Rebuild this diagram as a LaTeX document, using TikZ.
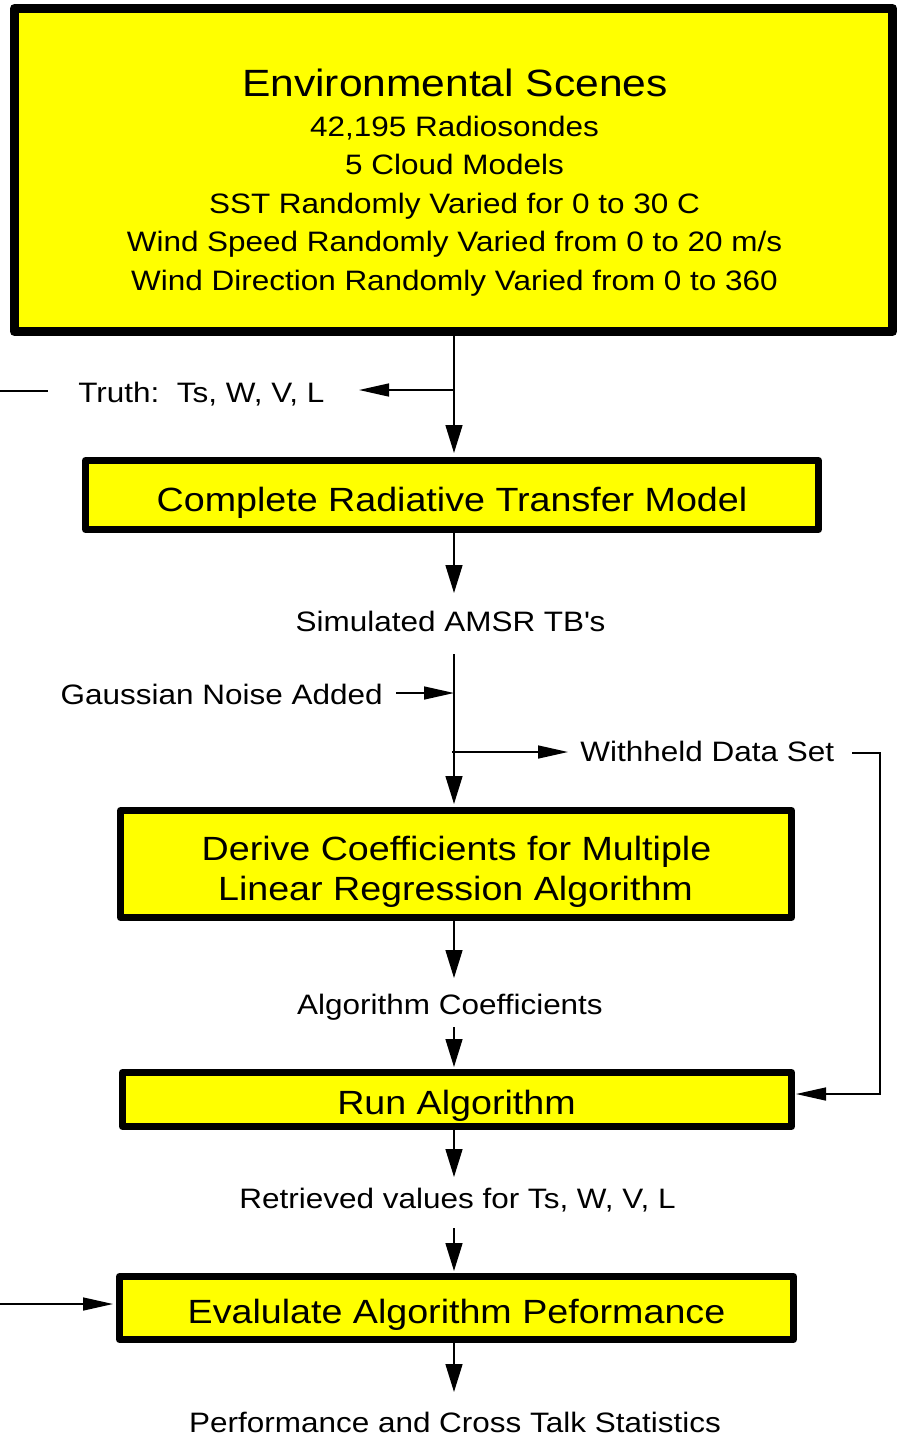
\documentclass[tikz,border=0pt]{standalone}
\usepackage{fontspec}
\setmainfont{Liberation Sans}[FakeStretch=1.12]
\usetikzlibrary{arrows.meta}
\definecolor{boxyellow}{RGB}{255,255,0}
\begin{document}
\begin{tikzpicture}[x=0.5pt,y=-0.5pt,
  conn/.style={line width=0.75pt},
  vtip/.style={conn,-{Triangle[length=14pt,width=8.5pt]}},
  htip/.style={conn,-{Triangle[length=15pt,width=6.5pt]}},
  box/.style={draw=black,fill=boxyellow,line width=3.5pt,line join=round,inner sep=0pt},
  txt/.style={inner sep=0pt,anchor=base},
  titlefont/.style={font=\fontsize{19pt}{23pt}\selectfont},
  boxfont/.style={font=\fontsize{16.8pt}{20pt}\selectfont},
  lblfont/.style={font=\fontsize{14.05pt}{17pt}\selectfont}]
\useasboundingbox (0,0) rectangle (899,1437);

% process boxes
\node[box,line width=4.5pt,minimum width=439pt,minimum height=161.5pt] (env) at (453.5,170) {};
\node[box,minimum width=366.5pt,minimum height=34.5pt] (rtm) at (452,495) {};
\node[box,minimum width=335.5pt,minimum height=53.5pt] (der) at (456,864) {};
\node[box,minimum width=334.5pt,minimum height=27pt] (run) at (457,1099.5) {};
\node[box,minimum width=337pt,minimum height=31.5pt] (eval) at (456.5,1308) {};

% box texts
\node[txt,titlefont] (envT) at (455,96) {Environmental Scenes};
\node[txt,lblfont] (env1) at (454.5,136) {42,195 Radiosondes};
\node[txt,lblfont] (env2) at (454.5,174.5) {5 Cloud Models};
\node[txt,lblfont] (env3) at (454.5,213) {SST Randomly Varied for 0 to 30 C};
\node[txt,lblfont] (env4) at (454.5,251.5) {Wind Speed Randomly Varied from 0 to 20 m/s};
\node[txt,lblfont] (env5) at (454.5,290) {Wind Direction Randomly Varied from 0 to 360};
\node[txt,boxfont] (rtmT) at (452,511) {Complete Radiative Transfer Model};
\node[txt,boxfont] (der1) at (456.5,860) {Derive Coefficients for Multiple};
\node[txt,boxfont] (der2) at (455.5,900) {Linear Regression Algorithm};
\node[txt,boxfont] (runT) at (456.5,1114) {Run Algorithm};
\node[txt,boxfont] (evalT) at (456.5,1323) {Evalulate Algorithm Peformance};

% data labels
\node[txt,lblfont,anchor=base west] (truth) at (78,402) {Truth:\ \ Ts, W, V, L};
\node[txt,lblfont] (sim) at (450.5,631) {Simulated AMSR TB\textquotesingle s};
\node[txt,lblfont,anchor=base east] (gauss) at (383,704) {Gaussian Noise Added};
\node[txt,lblfont,anchor=base west] (wd) at (580,761) {Withheld Data Set};
\node[txt,lblfont] (coef) at (450,1014) {Algorithm Coefficients};
\node[txt,lblfont] (retr) at (457.5,1208) {Retrieved values for Ts, W, V, L};
\node[txt,lblfont] (perf) at (455,1432) {Performance and Cross Talk Statistics};

% connector end points
\coordinate (sp) at (454,0);
\coordinate (truthjoin) at (454,390);
\coordinate (truthtip) at (359,390);
\coordinate (truthA) at (0,391);
\coordinate (truthB) at (48,391);
\coordinate (simtip) at (454,593);
\coordinate (noisetop) at (454,654);
\coordinate (noiseA) at (396,693);
\coordinate (noiseB) at (454,693);
\coordinate (wdA) at (452,752);
\coordinate (wdtip) at (568,752);
\coordinate (wdB) at (852,753);
\coordinate (wdC) at (880,1094);
\coordinate (coeftip) at (454,978);
\coordinate (coeftop) at (454,1027);
\coordinate (retrtip) at (454,1177);
\coordinate (retrtop) at (454,1228);
\coordinate (evalin) at (0,1304);
\coordinate (perftip) at (454,1392);

% connectors
\draw[vtip,shorten >=2pt] (env.south -| sp) -- (rtm.north -| sp);
\draw[htip] (truthjoin) -- (truthtip);
\draw[conn] (truthA) -- (truthB);
\draw[vtip] (rtm.south -| sp) -- (simtip);
\draw[vtip,shorten >=1.5pt] (noisetop) -- (der.north -| sp);
\draw[htip] (noiseA) -- (noiseB);
\draw[htip] (wdA) -- (wdtip);
\draw[htip,shorten >=0.5pt] (wdB) -| (wdC) -- (wdC -| run.east);
\draw[vtip] (der.south -| sp) -- (coeftip);
\draw[vtip,shorten >=1pt] (coeftop) -- (run.north -| sp);
\draw[vtip] (run.south -| sp) -- (retrtip);
\draw[vtip,shorten >=1pt] (retrtop) -- (eval.north -| sp);
\draw[htip,shorten >=1.5pt] (evalin) -- (evalin -| eval.west);
\draw[vtip] (eval.south -| sp) -- (perftip);
\end{tikzpicture}
\end{document}
